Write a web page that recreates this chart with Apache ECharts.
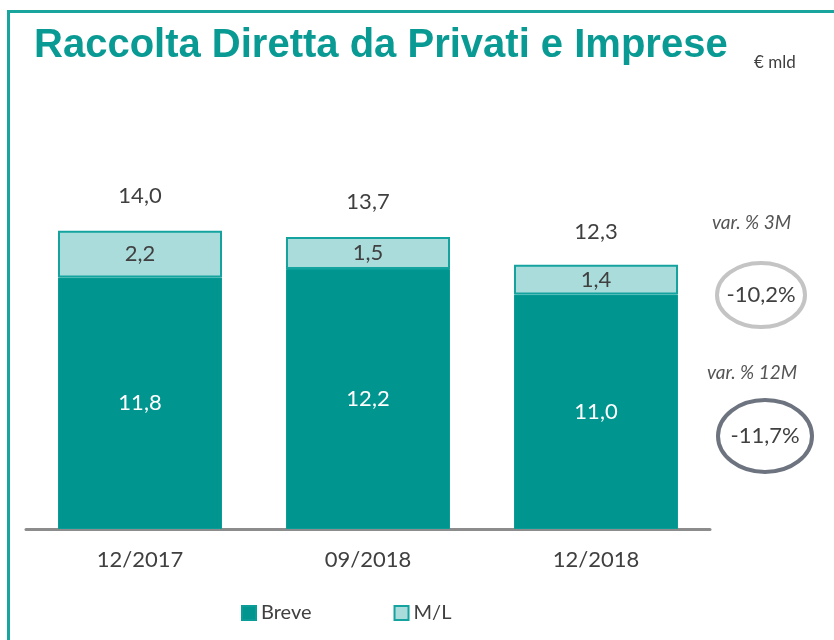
<!DOCTYPE html>
<html>
<head>
<meta charset="utf-8">
<script src="https://cdn.jsdelivr.net/npm/echarts@6/dist/echarts.min.js"></script>
<style>
  html, body { margin: 0; padding: 0; background: #fff; }
  #chart { width: 834px; height: 640px; }
</style>
</head>
<body>
<div id="chart"></div>
<script>
var chart = echarts.init(document.getElementById('chart'));

// dati (€ mld)
const periods = ['12/2017', '09/2018', '12/2018'];
const breve = [11.8, 12.2, 11.0];
const mediolungo = [2.2, 1.5, 1.4];
const totals = [14.0, 13.7, 12.3];
const var3M = '-10,2%';
const var12M = '-11,7%';

const teal = '#00958f';
const light = '#abdcdc';
const textGray = '#404040';
const font = 'Lato';

function fmt(v) {
  return v.toFixed(1).replace('.', ',');
}

const option = {
  backgroundColor: '#fff',
  textStyle: { fontFamily: font },
  title: {
    text: 'Raccolta Diretta da Privati e Imprese',
    left: 29,
    top: 21,
    textStyle: {
      fontFamily: 'Liberation Sans',
      fontSize: 40,
      fontWeight: 'bold',
      color: '#0a9a94'
    }
  },
  legend: {
    data: ['Breve', 'M/L'],
    bottom: 12,
    left: 236,
    itemWidth: 14,
    itemHeight: 14,
    itemGap: 82,
    icon: 'rect',
    textStyle: { fontSize: 20, color: textGray, fontFamily: font }
  },
  grid: { left: 26, right: 124, top: 188, bottom: 111 },
  xAxis: {
    type: 'category',
    data: periods,
    axisTick: { show: false },
    axisLine: { lineStyle: { color: '#8c8c8c', width: 3 } },
    axisLabel: { fontSize: 22, color: textGray, margin: 20, fontFamily: font }
  },
  yAxis: {
    type: 'value',
    min: 0,
    max: 16,
    show: false,
    splitLine: { show: false }
  },
  series: [
    {
      name: 'Totale',
      type: 'bar',
      data: totals,
      barWidth: 164,
      barGap: '-100%',
      z: 1,
      silent: true,
      itemStyle: { color: 'rgba(0,0,0,0)' },
      label: {
        show: true,
        position: 'top',
        distance: 24,
        fontSize: 22,
        color: textGray,
        fontFamily: font,
        formatter: function (p) { return fmt(p.value); }
      }
    },
    {
      name: 'Breve',
      type: 'bar',
      stack: 'tot',
      data: breve,
      barWidth: 164,
      z: 3,
      itemStyle: { color: teal, borderColor: '#0a9d97', borderWidth: 1 },
      label: {
        show: true,
        position: 'inside',
        fontSize: 22,
        color: '#fff',
        fontFamily: font,
        formatter: function (p) { return fmt(p.value); }
      }
    },
    {
      name: 'M/L',
      type: 'bar',
      stack: 'tot',
      data: mediolungo,
      barWidth: 164,
      z: 3,
      itemStyle: { color: light, borderColor: '#14a39e', borderWidth: 2 },
      label: {
        show: true,
        position: 'inside',
        fontSize: 22,
        color: textGray,
        fontFamily: font,
        formatter: function (p) { return fmt(p.value); }
      }
    }
  ],
  graphic: [
    {
      type: 'rect',
      shape: { x: 8.5, y: 11.5, width: 900, height: 700 },
      style: { fill: 'none', stroke: '#17a59e', lineWidth: 3 },
      silent: true
    },
    {
      type: 'text',
      left: 754,
      top: 54,
      style: { text: '€ mld', fontSize: 17, fill: textGray, fontFamily: font }
    },
    {
      type: 'text',
      left: 712,
      top: 213,
      style: { text: 'var. % 3M', fontSize: 19, fontStyle: 'italic', fill: '#555', fontFamily: font }
    },
    {
      type: 'ellipse',
      shape: { cx: 761, cy: 295, rx: 44, ry: 32 },
      style: { fill: '#fff', stroke: '#c4c4c4', lineWidth: 4 }
    },
    {
      type: 'text',
      x: 761,
      y: 295,
      style: { text: var3M, fontSize: 22, fill: textGray, fontFamily: font, align: 'center', verticalAlign: 'middle' }
    },
    {
      type: 'text',
      left: 707,
      top: 363,
      style: { text: 'var. % 12M', fontSize: 19, fontStyle: 'italic', fill: '#555', fontFamily: font }
    },
    {
      type: 'ellipse',
      shape: { cx: 765, cy: 436, rx: 47, ry: 36 },
      style: { fill: '#fff', stroke: '#6d7480', lineWidth: 4 }
    },
    {
      type: 'text',
      x: 765,
      y: 436,
      style: { text: var12M, fontSize: 22, fill: textGray, fontFamily: font, align: 'center', verticalAlign: 'middle' }
    }
  ]
};

chart.setOption(option);
</script>
</body>
</html>
